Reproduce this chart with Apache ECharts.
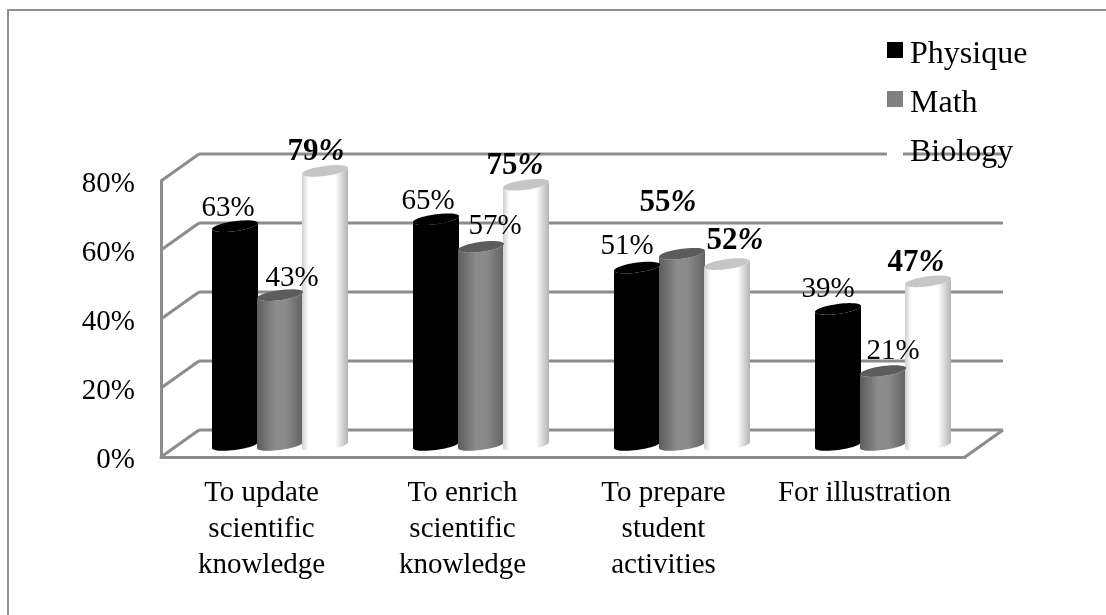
<!DOCTYPE html>
<html><head><meta charset="utf-8">
<style>html,body{margin:0;padding:0;background:#fff}#c{width:1106px;height:615px}</style>
<script src="https://cdn.jsdelivr.net/npm/echarts@6/dist/echarts.min.js"></script></head>
<body><div id="c"></div>
<script>
const categories = ['To update\nscientific\nknowledge','To enrich\nscientific\nknowledge','To prepare\nstudent\nactivities','For illustration'];
const physique = [63,65,51,39];
const math = [43,57,55,21];
const biology = [79,75,52,47];
const yTicks = [0,20,40,60,80];

const FONT = '"Liberation Serif","Times New Roman",serif';
const GRID = '#8c8c8c';
const DEPTH = [38,-27];
const MID = [19,-13.5];
const labelNudge = {
  Physique: [[-7,-18],[-8,-18],[-10,-21],[-10,-20]],
  Math: [[12,-17],[14,-20],[-14,-51],[10,-20]],
  Biology: [[-9,-19],[-11,-19],[8,-23],[-12,-18]]
};
const boldLabels = {Physique:[false,false,false,false],Math:[false,false,true,false],Biology:[true,true,true,true]};
const looks = {
  Physique: {legend:'#000000', top:'#000000', slot:-1,
    stops:[[0,'#000000'],[1,'#000000']]},
  Math: {legend:'#808080', top:'#5c5c5c', slot:0,
    stops:[[0,'#5c5c5c'],[0.4,'#8c8c8c'],[0.62,'#8a8a8a'],[1,'#626262']]},
  Biology: {legend:'#ffffff', top:'#c6c6c6', slot:1,
    stops:[[0,'#cfcfcf'],[0.14,'#ffffff'],[0.72,'#ffffff'],[1,'#b4b4b4']]}
};

function ellipsePoint(cx,cy,rx,ry,shear,t){
  return [cx+rx*Math.cos(t), cy+ry*Math.sin(t)-shear*Math.cos(t)];
}
function renderCyl(name){
  const look = looks[name];
  return function(params,api){
    const cat = api.value(0), v = api.value(1);
    const step = 45, rx = 23, ry = 5, shear = 3;
    const top = api.coord([cat,v]), base = api.coord([cat,0]);
    const cx = top[0]+MID[0]+look.slot*step-0.5;
    const yT = top[1]+MID[1], yB = base[1]+MID[1]+1.5;
    const pts = [];
    for(let i=0;i<=24;i++){ pts.push(ellipsePoint(cx,yT,rx,ry,shear,Math.PI-Math.PI*i/24)); }
    for(let i=0;i<=24;i++){ pts.push(ellipsePoint(cx,yB,rx,ry,shear,Math.PI*i/24)); }
    const cap = [];
    for(let i=0;i<48;i++){ cap.push(ellipsePoint(cx,yT,rx,ry,shear,Math.PI*2*i/48)); }
    const n = labelNudge[name][params.dataIndex];
    const bold = boldLabels[name][params.dataIndex];
    return {type:'group',children:[
      {type:'polygon',shape:{points:pts},z2:1,style:{
        fill:{type:'linear',x:0,y:0,x2:1,y2:0,
          colorStops:look.stops.map(s=>({offset:s[0],color:s[1]}))}}},
      {type:'polygon',shape:{points:cap},z2:2,style:{fill:look.top}},
      {type:'text',z2:50,style:{
        x:cx+n[0],y:yT+n[1],align:'center',verticalAlign:'middle',fill:'#000',
        text:bold?('{d|'+v+'}{p|%}'):(v+'%'),
        font:'29px '+FONT,
        rich:{d:{font:'bold 31px '+FONT,fill:'#000'},p:{font:'italic bold 31px '+FONT,fill:'#000'}}}}
    ]};
  };
}
function cylSeries(name,values){
  return {name,type:'custom',coordinateSystem:'cartesian2d',
    itemStyle:{color:looks[name].legend},
    renderItem:renderCyl(name),encode:{x:0,y:1},
    data:values.map((v,i)=>[i,v]),z:3};
}
function renderWalls(params,api){
  const v = api.value(0);
  const band = api.size([1,0])[0];
  const first = api.coord([0,v]), last = api.coord([categories.length-1,v]);
  const xL = first[0]-band/2, xR = last[0]+band/2, y = first[1];
  const ls = {stroke:GRID,lineWidth:3};
  const kids = [
    {type:'line',shape:{x1:xL,y1:y,x2:xL+DEPTH[0],y2:y+DEPTH[1]},style:ls},
    {type:'line',shape:{x1:xL+DEPTH[0],y1:y+DEPTH[1],x2:xR+DEPTH[0],y2:y+DEPTH[1]},style:ls}
  ];
  if(v===0) kids.push({type:'line',shape:{x1:xR,y1:y,x2:xR+DEPTH[0],y2:y+DEPTH[1]},style:ls});
  return {type:'group',children:kids};
}
const chart = echarts.init(document.getElementById('c'),null,{renderer:'canvas'});
chart.setOption({
  animation:false,backgroundColor:'#fff',
  textStyle:{fontFamily:FONT},
  graphic:[
    {type:'line',silent:true,shape:{x1:8,y1:10,x2:1106,y2:10},style:{stroke:'#8f8f8f',lineWidth:2}},
    {type:'line',silent:true,shape:{x1:8,y1:9,x2:8,y2:615},style:{stroke:'#8f8f8f',lineWidth:2}}
  ],
  grid:{left:161,right:141,top:181,bottom:158,containLabel:false},
  legend:{orient:'vertical',left:887,top:39,padding:0,itemWidth:16,itemHeight:16,itemGap:17,
    data:['Physique','Math','Biology'],icon:'rect',z:10,
    formatter:'{a|{name}}',
    textStyle:{fontFamily:FONT,fontSize:32,color:'#000',
      rich:{a:{fontFamily:FONT,fontSize:32,color:'#000',padding:[10,0,0,2]}}}},
  xAxis:{type:'category',data:categories,
    axisLine:{show:true,lineStyle:{color:GRID,width:3}},axisTick:{show:false},
    axisLabel:{interval:0,margin:18,fontFamily:FONT,fontSize:29,lineHeight:36,color:'#000'}},
  yAxis:{type:'value',min:0,max:80,interval:20,
    axisLine:{show:true,lineStyle:{color:GRID,width:3}},axisTick:{show:false},splitLine:{show:false},
    axisLabel:{margin:26,fontFamily:FONT,fontSize:29,color:'#000',formatter:'{a|{value}%}',
      rich:{a:{fontFamily:FONT,fontSize:29,color:'#000',padding:[6,0,0,0]}}}},
  series:[
    {name:'walls',type:'custom',coordinateSystem:'cartesian2d',z:1,renderItem:renderWalls,
      encode:{y:0},data:yTicks.map(v=>[v])},
    cylSeries('Physique',physique),cylSeries('Math',math),cylSeries('Biology',biology)
  ]
});
</script></body></html>
